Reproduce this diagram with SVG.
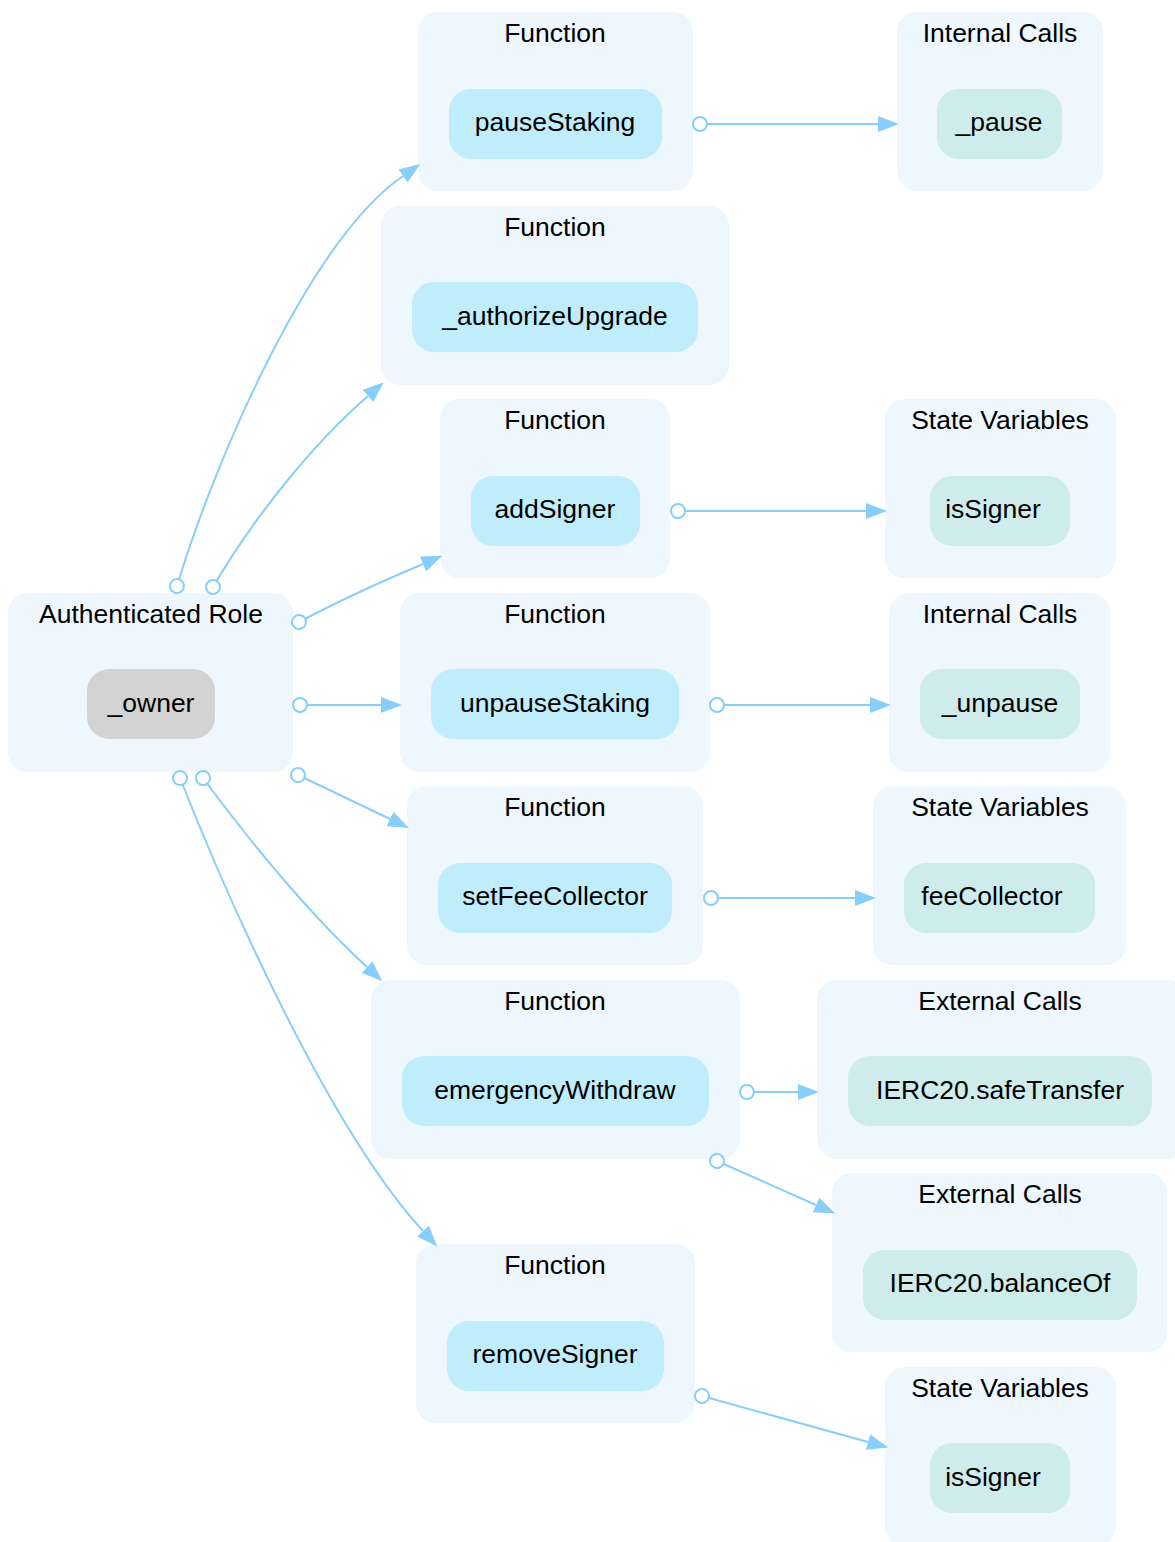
<svg xmlns="http://www.w3.org/2000/svg" width="1175" height="1542" viewBox="0 0 1175 1542">
<style>
.cl{fill:#eef6fe;stroke:none}
.fn{fill:#c0edfb}
.ex{fill:#cfecec}
.ow{fill:#d3d3d3}
text{font-family:"Liberation Sans",Arial,sans-serif;font-size:26.5px;fill:#000;text-anchor:middle}
.e{fill:none;stroke:#87cefa;stroke-width:2;marker-start:url(#tail);marker-end:url(#head)}
</style>
<defs>
<marker id="head" markerUnits="userSpaceOnUse" viewBox="0 0 21 16" refX="0" refY="8" markerWidth="21" markerHeight="16" orient="auto"><path d="M0,0 L21,8 L0,16 z" fill="#87cefa"/></marker>
<marker id="tail" markerUnits="userSpaceOnUse" viewBox="0 0 20 20" refX="10" refY="10" markerWidth="20" markerHeight="20" orient="auto"><circle cx="10" cy="10" r="7" fill="#fff" stroke="#87cefa" stroke-width="2"/></marker>
</defs>
<rect width="1175" height="1542" fill="#fff"/>
<g id="f_pauseStaking"><rect class="cl" x="418" y="12" width="275" height="179" rx="20"/><text x="555" y="42">Function</text><rect class="fn" x="449" y="89" width="213" height="70" rx="22"/><text x="555" y="131">pauseStaking</text></g>
<g id="ic_pause"><rect class="cl" x="897" y="12" width="206" height="179" rx="20"/><text x="1000" y="42">Internal Calls</text><rect class="ex" x="937" y="89" width="125" height="70" rx="22"/><text x="999" y="131">_pause</text></g>
<g id="f_authorizeUpgrade"><rect class="cl" x="381" y="206" width="348" height="179" rx="20"/><text x="555" y="236">Function</text><rect class="fn" x="412" y="282" width="286" height="70" rx="22"/><text x="555" y="325">_authorizeUpgrade</text></g>
<g id="f_addSigner"><rect class="cl" x="440" y="399" width="230" height="179" rx="20"/><text x="555" y="429">Function</text><rect class="fn" x="471" y="476" width="169" height="70" rx="22"/><text x="555" y="518">addSigner</text></g>
<g id="sv_isSigner1"><rect class="cl" x="885" y="399" width="231" height="179" rx="20"/><text x="1000" y="429">State Variables</text><rect class="ex" x="930" y="476" width="140" height="70" rx="22"/><text x="993" y="518">isSigner</text></g>
<g id="role_owner"><rect class="cl" x="8" y="593" width="285" height="179" rx="20"/><text x="151" y="623">Authenticated Role</text><rect class="ow" x="87" y="669" width="128" height="70" rx="22"/><text x="151" y="712">_owner</text></g>
<g id="f_unpauseStaking"><rect class="cl" x="400" y="593" width="310" height="179" rx="20"/><text x="555" y="623">Function</text><rect class="fn" x="431" y="669" width="248" height="70" rx="22"/><text x="555" y="712">unpauseStaking</text></g>
<g id="ic_unpause"><rect class="cl" x="889" y="593" width="221" height="179" rx="20"/><text x="1000" y="623">Internal Calls</text><rect class="ex" x="920" y="669" width="160" height="70" rx="22"/><text x="1000" y="712">_unpause</text></g>
<g id="f_setFeeCollector"><rect class="cl" x="407" y="786" width="296" height="179" rx="20"/><text x="555" y="816">Function</text><rect class="fn" x="438" y="863" width="234" height="70" rx="22"/><text x="555" y="905">setFeeCollector</text></g>
<g id="sv_feeCollector"><rect class="cl" x="873" y="786" width="253" height="179" rx="20"/><text x="1000" y="816">State Variables</text><rect class="ex" x="904" y="863" width="191" height="70" rx="22"/><text x="992" y="905">feeCollector</text></g>
<g id="f_emergencyWithdraw"><rect class="cl" x="371" y="980" width="369" height="179" rx="20"/><text x="555" y="1010">Function</text><rect class="fn" x="402" y="1056" width="307" height="70" rx="22"/><text x="555" y="1099">emergencyWithdraw</text></g>
<g id="ec_safeTransfer"><rect class="cl" x="817" y="980" width="370" height="179" rx="20"/><text x="1000" y="1010">External Calls</text><rect class="ex" x="848" y="1056" width="304" height="70" rx="22"/><text x="1000" y="1099">IERC20.safeTransfer</text></g>
<g id="ec_balanceOf"><rect class="cl" x="832" y="1173" width="335" height="179" rx="20"/><text x="1000" y="1203">External Calls</text><rect class="ex" x="863" y="1250" width="274" height="70" rx="22"/><text x="1000" y="1292">IERC20.balanceOf</text></g>
<g id="f_removeSigner"><rect class="cl" x="416" y="1244" width="279" height="179" rx="20"/><text x="555" y="1274">Function</text><rect class="fn" x="447" y="1321" width="217" height="70" rx="22"/><text x="555" y="1363">removeSigner</text></g>
<g id="sv_isSigner2"><rect class="cl" x="885" y="1367" width="231" height="179" rx="20"/><text x="1000" y="1397">State Variables</text><rect class="ex" x="930" y="1443" width="140" height="70" rx="22"/><text x="993" y="1486">isSigner</text></g>
<g id="connectors">
<path class="e" d="M700,124 L878,124"/>
<path class="e" d="M678,511 L866,511"/>
<path class="e" d="M717,705 L870,705"/>
<path class="e" d="M711,898 L855,898"/>
<path class="e" d="M747,1092 L798,1092"/>
<path class="e" d="M717,1161 L816,1205"/>
<path class="e" d="M702,1396 L868,1442"/>
<path class="e" d="M177,586 C215,460 310,240 403,176"/>
<path class="e" d="M213,587 C255,515 315,442 368,396"/>
<path class="e" d="M299,622 C335,603 385,580 423,564"/>
<path class="e" d="M300,705 L381,705"/>
<path class="e" d="M298,775 L390,819"/>
<path class="e" d="M203,778 C240,828 300,905 367,967"/>
<path class="e" d="M180,778 C228,900 330,1130 423,1231"/>
</g>
</svg>
